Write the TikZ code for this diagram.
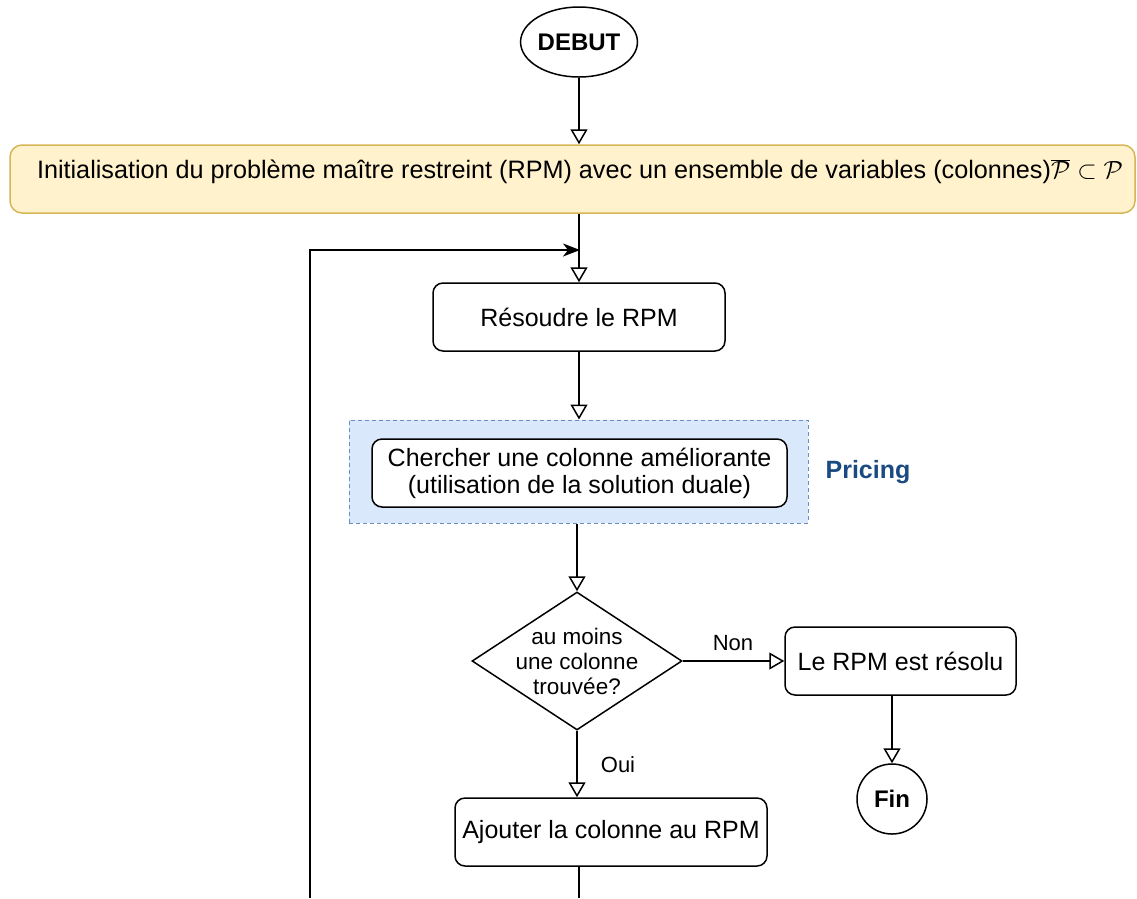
\documentclass[tikz,border=0pt]{standalone}
\usepackage{fontspec}
\setmainfont{Liberation Sans}
\usetikzlibrary{arrows.meta,shapes.geometric}
\definecolor{initfill}{HTML}{FFF2CC}
\definecolor{initline}{HTML}{D6B656}
\definecolor{grpfill}{HTML}{DAE8FC}
\definecolor{grpline}{HTML}{6C8EBF}
\definecolor{pricecol}{HTML}{1A4A82}
\begin{document}
\begin{tikzpicture}[x=1pt,y=-1pt,
  every node/.style={font=\fontsize{25}{27}\selectfont, inner sep=0pt},
  line/.style={draw=black, line width=1.5pt},
  openarrow/.style={line, -{Triangle[open, length=15pt, width=17pt, line width=1.5pt]}},
  fillarrow/.style={line, -{Stealth[length=17pt, width=13pt, inset=5pt]}},
  stepbox/.style={draw, line width=1.5pt, rounded corners=10pt, align=center},
  endcap/.style={draw, line width=1.5pt, font=\fontsize{24}{26}\selectfont\bfseries}]
\useasboundingbox (0,0) rectangle (1137,898);

% start terminal
\node[endcap, ellipse, minimum width=105pt, minimum height=70pt] (debut) at (579,42) {DEBUT};

% restricted master problem initialisation
\node[draw=initline, fill=initfill, line width=1.5pt, rounded corners=12pt,
      minimum width=1125pt, minimum height=68pt,
      label={[xshift=7.5pt, yshift=7pt, font=\fontsize{25.2}{27}\selectfont]center:Initialisation du problème maître restreint (RPM) avec un ensemble de variables (colonnes)$\overline{\mathcal{P}} \subset \mathcal{P}$}]
      (init) at (572.5,179) {};

% solve the RPM
\node[stepbox, minimum width=292pt, minimum height=68pt] (res) at (579,317) {Résoudre le RPM};

% pricing group
\node[draw=grpline, fill=grpfill, line width=1pt, dash pattern=on 4pt off 3pt,
      minimum width=459pt, minimum height=103pt] (grp) at (578.5,471.5) {};
\node[stepbox, fill=white, minimum width=415pt, minimum height=68pt]
      (cherch) at (579.5,473) {Chercher une colonne améliorante\\(utilisation de la solution duale)};
\node[font=\fontsize{25}{27}\selectfont\bfseries, text=pricecol] (pricing) at (868,472) {Pricing};

% decision
\node[diamond, draw, line width=1.5pt, minimum width=210pt, minimum height=138pt] (dec) at (577,661) {};
\node[align=center, font=\fontsize{22.5}{25}\selectfont] (dectext) at (577,661) {au moins\\une colonne\\trouvée?};

% outcomes
\node[stepbox, minimum width=231pt, minimum height=68pt] (solved) at (900.5,661) {Le RPM est résolu};
\node[endcap, circle, minimum size=70pt] (fin) at (892,799) {Fin};
\node[stepbox, minimum width=312pt, minimum height=68pt] (ajout) at (611,832) {Ajouter la colonne au RPM};

% branch labels
\node[font=\fontsize{22}{24}\selectfont] (non) at (733,643) {Non};
\node[font=\fontsize{22}{24}\selectfont] (oui) at (618,765) {Oui};

% loop coordinates
\coordinate (loopjoin) at (580,250);
\coordinate (loopbot) at (310,898);
\coordinate (ajoutbot) at (579,898);

% connectors
\draw[openarrow] (debut.south) -- (debut.south |- init.north);
\draw[openarrow] (res.north |- init.south) -- (res.north);
\draw[fillarrow] (loopbot) |- (loopjoin);
\draw[openarrow] (res.south) -- (res.south |- grp.north);
\draw[openarrow] (dec.north |- grp.south) -- (dec.north);
\draw[openarrow] (dec.east) -- (solved.west);
\draw[openarrow] (fin.north |- solved.south) -- (fin.north);
\draw[openarrow] (dec.south) -- (dec.south |- ajout.north);
\draw[line] (ajoutbot |- ajout.south) -- (ajoutbot);
\end{tikzpicture}
\end{document}
